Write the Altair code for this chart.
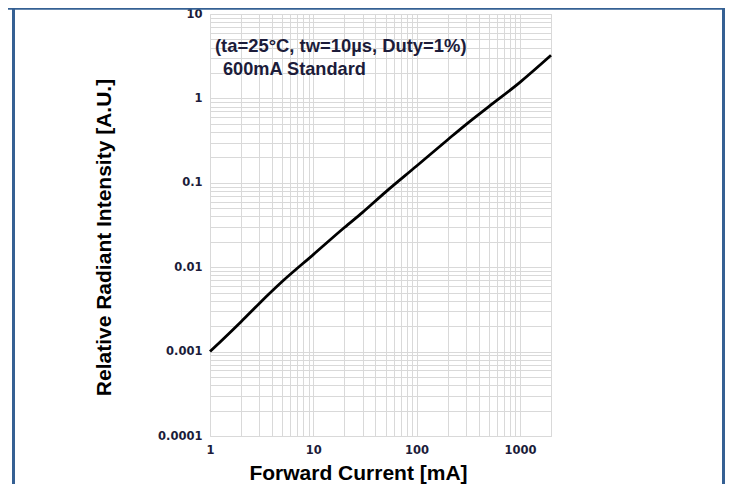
import altair as alt
import pandas as pd

# Curve data (log-log)
current_mA = [1, 2, 3, 5, 10, 20, 30, 50, 100, 200, 300, 500, 1000, 2000]
rel_intensity = [0.001, 0.00226, 0.00372, 0.00676, 0.0141, 0.0295, 0.0447, 0.0776,
                 0.158, 0.324, 0.49, 0.80, 1.55, 3.24]

# Grid / tick values
x_grid = [1, 2, 3, 4, 5, 6, 7, 8, 9,
          10, 20, 30, 40, 50, 60, 70, 80, 90,
          100, 200, 300, 400, 500, 600, 700, 800, 900,
          1000, 2000]
x_tick_labels = [1, 10, 100, 1000]
y_grid = [0.0001, 0.0002, 0.0003, 0.0004, 0.0005, 0.0006, 0.0007, 0.0008, 0.0009,
          0.001, 0.002, 0.003, 0.004, 0.005, 0.006, 0.007, 0.008, 0.009,
          0.01, 0.02, 0.03, 0.04, 0.05, 0.06, 0.07, 0.08, 0.09,
          0.1, 0.2, 0.3, 0.4, 0.5, 0.6, 0.7, 0.8, 0.9,
          1, 2, 3, 4, 5, 6, 7, 8, 9, 10]
y_tick_labels = [0.0001, 0.001, 0.01, 0.1, 1, 10]

annotation_lines = ["(ta=25°C, tw=10µs, Duty=1%)", "600mA Standard"]

df = pd.DataFrame({"current": current_mA, "intensity": rel_intensity})

def label_expr(vals):
    arr = ",".join(repr(v) for v in vals)
    return f"indexof([{arr}], datum.value) >= 0 ? datum.value + '' : ''"

GRID = "#d9d9d9"
LABEL_COLOR = "#1c1c3a"
FRAME = "#356093"

x_enc = alt.X(
    "current:Q",
    scale=alt.Scale(type="log", domain=[1, 2000], nice=False),
    axis=alt.Axis(
        values=x_grid, labelExpr=label_expr(x_tick_labels),
        grid=True, gridColor=GRID, gridWidth=1,
        domain=False, ticks=False, labelOverlap=False, labelFlush=False,
        labelFont="DejaVu Sans", labelFontWeight="bold", labelFontSize=11.5,
        labelColor=LABEL_COLOR, labelPadding=8,
        title="Forward Current [mA]", titleFont="Liberation Sans",
        titleFontWeight="bold", titleFontSize=21, titleColor="black",
        titleX=148, titleY=43.5, titleAlign="center", titleBaseline="alphabetic",
    ),
)
y_enc = alt.Y(
    "intensity:Q",
    scale=alt.Scale(type="log", domain=[0.0001, 10], nice=False),
    axis=alt.Axis(
        values=y_grid, labelExpr=label_expr(y_tick_labels),
        grid=True, gridColor=GRID, gridWidth=1,
        domain=False, ticks=False, labelOverlap=False, labelFlush=False,
        labelFont="DejaVu Sans", labelFontWeight="bold", labelFontSize=11.5,
        labelColor=LABEL_COLOR, labelPadding=8,
        title="Relative Radiant Intensity [A.U.]", titleFont="Liberation Sans",
        titleFontWeight="bold", titleFontSize=21, titleColor="black",
        titleAngle=270, titleX=-100, titleY=223, titleAlign="center",
        titleBaseline="alphabetic",
    ),
)

line = alt.Chart(df).mark_line(
    color="black", strokeWidth=2.8, interpolate="monotone"
).encode(x=x_enc, y=y_enc)

one = alt.Data(values=[{"a": 1}])
frame_left = alt.Chart(one).mark_rect(color=FRAME).encode(
    x=alt.value(-198), x2=alt.value(-195), y=alt.value(-6), y2=alt.value(480))
frame_right = alt.Chart(one).mark_rect(color=FRAME).encode(
    x=alt.value(512), x2=alt.value(515), y=alt.value(-6), y2=alt.value(480))
frame_top = alt.Chart(one).mark_rect(color=FRAME).encode(
    x=alt.value(-202), x2=alt.value(516), y=alt.value(-6), y2=alt.value(-4.2))

ann1 = alt.Chart(one).mark_text(
    text=annotation_lines[0], font="Liberation Sans", fontWeight="bold", fontSize=18.4,
    align="left", baseline="alphabetic", color=LABEL_COLOR,
).encode(x=alt.value(5), y=alt.value(38))
ann2 = alt.Chart(one).mark_text(
    text=annotation_lines[1], font="Liberation Sans", fontWeight="bold", fontSize=18.2,
    align="left", baseline="alphabetic", color=LABEL_COLOR,
).encode(x=alt.value(13), y=alt.value(61))

chart = alt.layer(frame_left, frame_right, frame_top, line, ann1, ann2).properties(
    width=341, height=422,
    autosize=alt.AutoSizeParams(type="none"),
    padding={"left": 202, "top": 6, "right": 174, "bottom": 48},
    background="white",
).configure_view(stroke=GRID, strokeWidth=1)

chart.save("out.html", embed_options={"renderer": "svg", "actions": False})
